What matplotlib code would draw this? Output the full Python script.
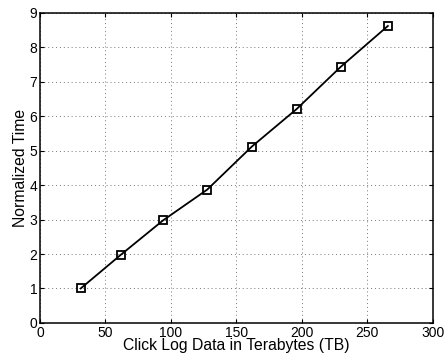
import matplotlib
matplotlib.use('Agg')
import matplotlib.pyplot as plt

# Data
data_tb = [31.1, 61.8, 94.1, 127.7, 161.8, 196.0, 229.8, 265.6]
norm_time = [1.0, 1.98, 2.98, 3.87, 5.12, 6.21, 7.44, 8.62]
x_ticks = [0, 50, 100, 150, 200, 250, 300]
y_ticks = [0, 1, 2, 3, 4, 5, 6, 7, 8, 9]

plt.rcParams['font.family'] = ['Liberation Sans', 'DejaVu Sans']

fig = plt.figure(figsize=(4.44, 3.58), dpi=100)
ax = fig.add_axes([0.09, 0.098, 0.885, 0.866])

ax.plot(data_tb, norm_time, 'k-', linewidth=1.3,
        marker='s', markersize=6, markerfacecolor='none',
        markeredgecolor='k', markeredgewidth=1.3)

ax.set_xlim(0, 300)
ax.set_ylim(0, 9)
ax.set_xticks(x_ticks)
ax.set_yticks(y_ticks)
ax.grid(True, linestyle=(0, (1, 3)), color='#777777', linewidth=0.7)
ax.tick_params(direction='in', top=True, right=True, labelsize=10,
               length=3, width=0.8, pad=2)
for s in ax.spines.values():
    s.set_linewidth(1.1)

ax.set_xlabel('Click Log Data in Terabytes (TB)', fontsize=11.3, labelpad=-1)
ax.set_ylabel('Normalized Time', fontsize=11.3, labelpad=1)

fig.savefig('out.png', dpi=100)
